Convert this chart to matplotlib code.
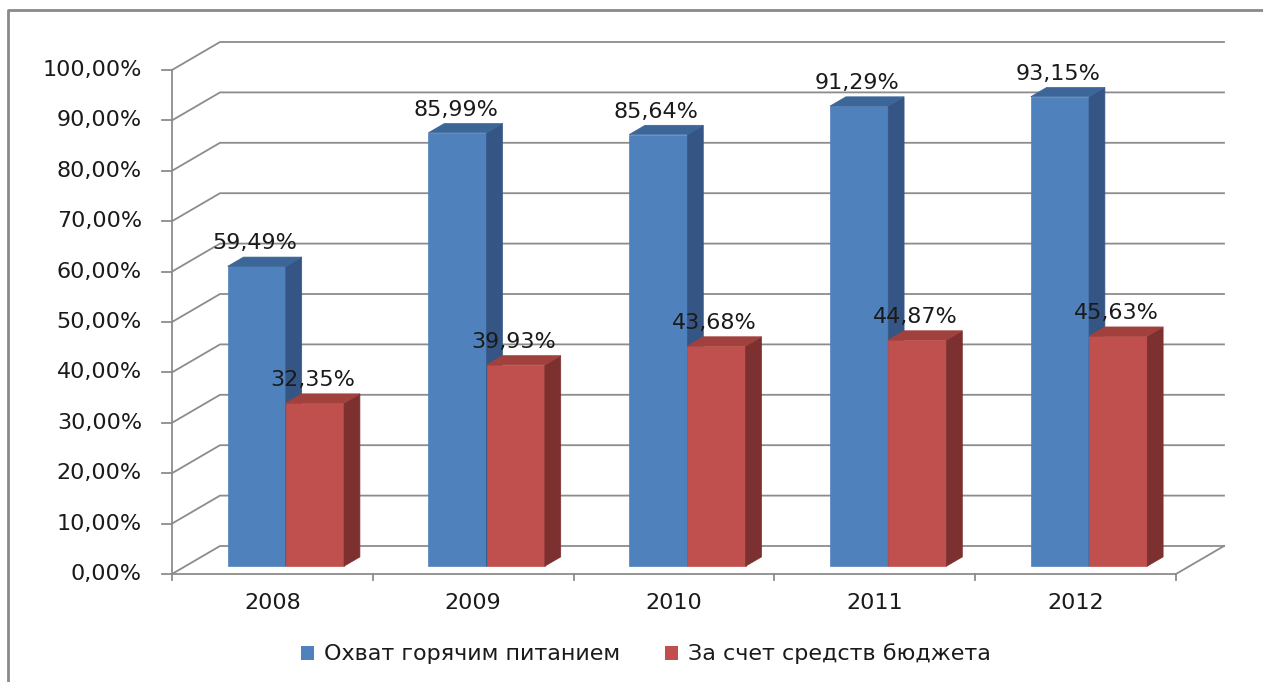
import matplotlib
matplotlib.use("Agg")
import matplotlib.pyplot as plt
from matplotlib.patches import Polygon, Rectangle
from matplotlib.lines import Line2D

# ---------------------------DATA------------------------------------#
years = ['2008', '2009', '2010', '2011', '2012']
coverage = [59.49, 85.99, 85.64, 91.29, 93.15]
budget = [32.35, 39.93, 43.68, 44.87, 45.63]
series_names = ['Охват горячим питанием', 'За счет средств бюджета']
yticks = list(range(0, 101, 10))

# face colours: front, side, top
blue = ('#4F81BD', '#355684', '#3C6598')
red = ('#C0504D', '#7C302F', '#A1413E')
grid_col = '#8c8c8c'
txt_col = '#1a1a1a'
fs = 16

# ---------------------------GEOMETRY------------------------------------#
W, H = 1263, 682
cat_px = 200.8      # pixels per category
pct_px = 5.04       # pixels per percent
x0_px, y0_px = 172, 574   # front origin of the axes in pixels
DX = 48 / cat_px    # depth offset of the back wall (category units)
DY = 28 / pct_px    # depth offset of the back wall (percent units)
bar_w = 0.29
d_front, d_back = 0.28, 0.61

def proj(x, y, d):
    return (x + d * DX, y + d * DY)

fig = plt.figure(figsize=(W / 100, H / 100), dpi=100)
ax = fig.add_axes([0, 0, 1, 1])
ax.set_xlim(-0.5 - x0_px / cat_px, -0.5 + (W - x0_px) / cat_px)
ax.set_ylim((y0_px - H) / pct_px, y0_px / pct_px)
ax.axis('off')

n = len(years)
xl, xr = -0.5, n - 0.5

# gridlines on side wall and back wall
for v in yticks:
    pts = [proj(xl, v, 0), proj(xl, v, 1), proj(xr, v, 1)]
    ax.plot([p[0] for p in pts], [p[1] for p in pts], color=grid_col, lw=1.3, zorder=1)
    ax.plot([xl - 10 / cat_px, xl], [v, v], color=grid_col, lw=1.3, zorder=1)
    lab = f'{v:.2f}'.replace('.', ',') + '%'
    ax.text(xl - 30 / cat_px, v, lab, ha='right', va='center', fontsize=fs, color=txt_col)

# y axis and floor
ax.plot([xl, xl], [0, 100], color=grid_col, lw=1.3, zorder=1)
ax.plot([xl, xr], [0, 0], color=grid_col, lw=1.3, zorder=1)
p0, p1 = proj(xr, 0, 0), proj(xr, 0, 1)
ax.plot([p0[0], p1[0]], [p0[1], p1[1]], color=grid_col, lw=1.3, zorder=1)
for i in range(n + 1):
    ax.plot([i - 0.5, i - 0.5], [0, -6 / pct_px], color=grid_col, lw=1.3, zorder=1)

def bar3d(xa, xb, h, cols):
    front = [proj(xa, 0, d_front), proj(xb, 0, d_front), proj(xb, h, d_front), proj(xa, h, d_front)]
    side = [proj(xb, 0, d_front), proj(xb, 0, d_back), proj(xb, h, d_back), proj(xb, h, d_front)]
    top = [proj(xa, h, d_front), proj(xb, h, d_front), proj(xb, h, d_back), proj(xa, h, d_back)]
    for poly, c in zip([front, side, top], cols):
        ax.add_patch(Polygon(poly, closed=True, facecolor=c, edgecolor=c, lw=0.5, zorder=3))

def value_label(xa, xb, h):
    cx, cy = proj((xa + xb) / 2, h, d_front)
    ax.text(cx - 2 / cat_px, cy + 23 / pct_px, f'{h:.2f}'.replace('.', ',') + '%',
            ha='center', va='center', fontsize=fs, color=txt_col, zorder=5)

for i in range(n):
    bar3d(i - bar_w, i, coverage[i], blue)
    bar3d(i, i + bar_w, budget[i], red)
for i in range(n):
    value_label(i - bar_w, i, coverage[i])
    value_label(i, i + bar_w, budget[i])
    ax.text(i, -29 / pct_px, years[i], ha='center', va='center', fontsize=fs, color=txt_col)

# legend
handles = [Rectangle((0, 0), 1, 1, facecolor=blue[0]), Rectangle((0, 0), 1, 1, facecolor=red[0])]
leg = fig.legend(handles, series_names, loc='center', bbox_to_anchor=(646 / W, 28 / H), ncol=2,
                 frameon=False, fontsize=fs, handlelength=0.6, handleheight=0.6,
                 handletextpad=0.45, columnspacing=2.0)
for t in leg.get_texts():
    t.set_color(txt_col)

# outer chart border
fig.add_artist(Line2D([8 / W, 8 / W, 1.0], [0.0, 1 - 10 / H, 1 - 10 / H],
                      transform=fig.transFigure, color='#8a8a8a', lw=2))

fig.savefig('out.png', dpi=100)
